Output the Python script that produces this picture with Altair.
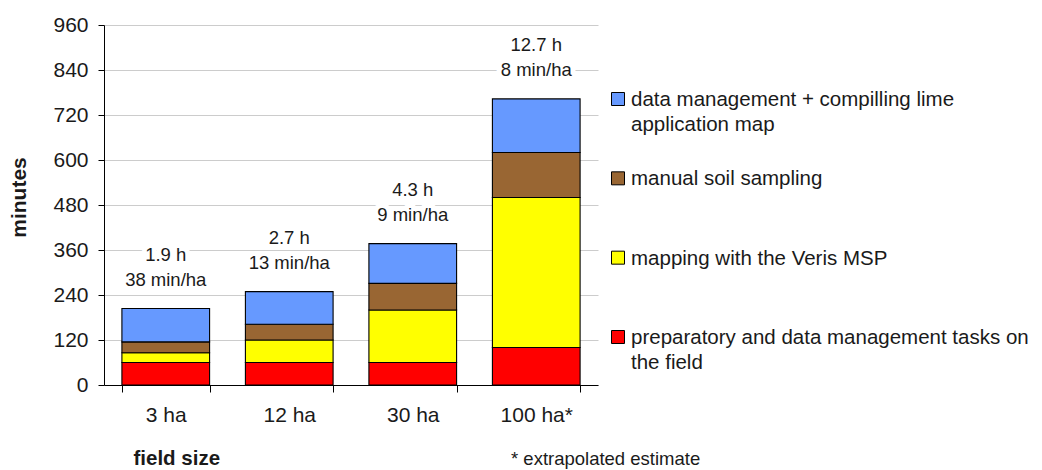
import altair as alt
import pandas as pd

# ---- data ----
fields = ["3 ha", "12 ha", "30 ha", "100 ha*"]
prep = [60, 60, 60, 100]        # preparatory and data management tasks on the field
veris = [26, 60, 140, 400]      # mapping with the Veris MSP
manual = [29, 42, 71, 120]      # manual soil sampling
dm = [89, 87, 106, 143]         # data management + compilling lime application map
hours = ["1.9 h", "2.7 h", "4.3 h", "12.7 h"]
per_ha = ["38 min/ha", "13 min/ha", "9 min/ha", "8 min/ha"]

tasks = [
    "preparatory and data management tasks on the field",
    "mapping with the Veris MSP",
    "manual soil sampling",
    "data management + compilling lime application map",
]
legend_labels = [
    "data management + compilling lime\napplication map",
    "manual soil sampling",
    "mapping with the Veris MSP",
    "preparatory and data management tasks on\nthe field",
]
legend_tasks = [tasks[3], tasks[2], tasks[1], tasks[0]]
colors = ["#FF0000", "#FFFF00", "#996633", "#6699FF"]
footnote = "* extrapolated estimate"
y_ticks = [0, 120, 240, 360, 480, 600, 720, 840, 960]

TXT = "#1a1a1a"
FONT = "Liberation Sans"

series = [prep, veris, manual, dm]
rows = []
for i, f in enumerate(fields):
    for k, t in enumerate(tasks):
        rows.append({"field": f, "task": t, "minutes": series[k][i], "ord": k})
df = pd.DataFrame(rows)

tot = pd.DataFrame({
    "field": fields,
    "total": [sum(s[i] for s in series) for i in range(len(fields))],
    "hours": hours,
    "per_ha": per_ha,
})

color_scale = alt.Scale(domain=tasks, range=colors)
x_enc = alt.X(
    "field:N", sort=fields,
    scale=alt.Scale(paddingInner=0.29, paddingOuter=0.145),
    axis=alt.Axis(
        title="field size", labelAngle=0, tickBand="extent", tickSize=7,
        labelPadding=12, labelFontSize=21, labelColor=TXT, domainColor="#000000",
        tickColor="#000000", grid=False, titleFontSize=20.5, titleFontWeight="bold",
        titleColor=TXT, titleX=29, titleY=73, titleAlign="left", titleBaseline="middle",
        titleAnchor="start",
    ),
)
y_scale = alt.Scale(domain=[0, 960], nice=False)

bars = alt.Chart(df).mark_bar(stroke="#000000", strokeWidth=1.1).encode(
    x=x_enc,
    y=alt.Y(
        "minutes:Q", stack="zero", scale=y_scale,
        axis=alt.Axis(
            title="minutes", values=y_ticks, grid=True, gridColor="#cccccc",
            tickSize=6, labelPadding=10, labelFontSize=21, labelColor=TXT,
            domainColor="#000000", tickColor="#000000", titleFontSize=21,
            titleFontWeight="bold", titleColor=TXT, titleAngle=270,
            titleX=-85, titleY=172, titleAlign="center", titleBaseline="middle",
        ),
    ),
    color=alt.Color("task:N", scale=color_scale, legend=None),
    order=alt.Order("ord:Q"),
)

tbase = alt.Chart(tot).encode(
    x=alt.X("field:N", sort=fields),
    y=alt.Y("total:Q", scale=y_scale),
)
halo1 = tbase.mark_text(fontSize=18.5, dy=-53.5, baseline="middle", color="white",
                        stroke="white", strokeWidth=10, strokeJoin="round").encode(text="hours:N")
halo2 = tbase.mark_text(fontSize=18.5, dy=-29, baseline="middle", color="white",
                        stroke="white", strokeWidth=10, strokeJoin="round").encode(text="per_ha:N")
lab1 = tbase.mark_text(fontSize=18.5, dy=-53.5, baseline="middle", color=TXT).encode(text="hours:N")
lab2 = tbase.mark_text(fontSize=18.5, dy=-29, baseline="middle", color=TXT).encode(text="per_ha:N")

note = alt.Chart(pd.DataFrame({"t": [footnote]})).mark_text(
    fontSize=18.5, align="left", baseline="middle", color=TXT
).encode(text="t:N", x=alt.value(407), y=alt.value(434))

main = alt.layer(bars, halo1, halo2, lab1, lab2, note).properties(width=494, height=360)

leg_df = pd.DataFrame({"label": legend_labels, "task": legend_tasks})
leg_base = alt.Chart(leg_df).encode(
    y=alt.Y("label:N", sort=legend_labels,
            scale=alt.Scale(type="point", range=[74, 312], padding=0), axis=None)
)
symbols = leg_base.mark_square(size=169, stroke="#000000", strokeWidth=1, opacity=1).encode(
    x=alt.value(7), color=alt.Color("task:N", scale=color_scale, legend=None)
)
texts = leg_base.mark_text(
    align="left", baseline="top", dy=-9, lineBreak="\n", fontSize=20.5,
    lineHeight=24.5, color=TXT
).encode(x=alt.value(20), text="label:N")
legend_panel = alt.layer(symbols, texts).properties(width=410, height=360)

chart = alt.hconcat(main, legend_panel, spacing=13, bounds="flush").properties(
    padding={"left": 0, "top": 6, "right": 0, "bottom": 0}
).configure(font=FONT).configure_view(stroke=None)

chart.save("out.html", embed_options={"renderer": "svg", "actions": False})
